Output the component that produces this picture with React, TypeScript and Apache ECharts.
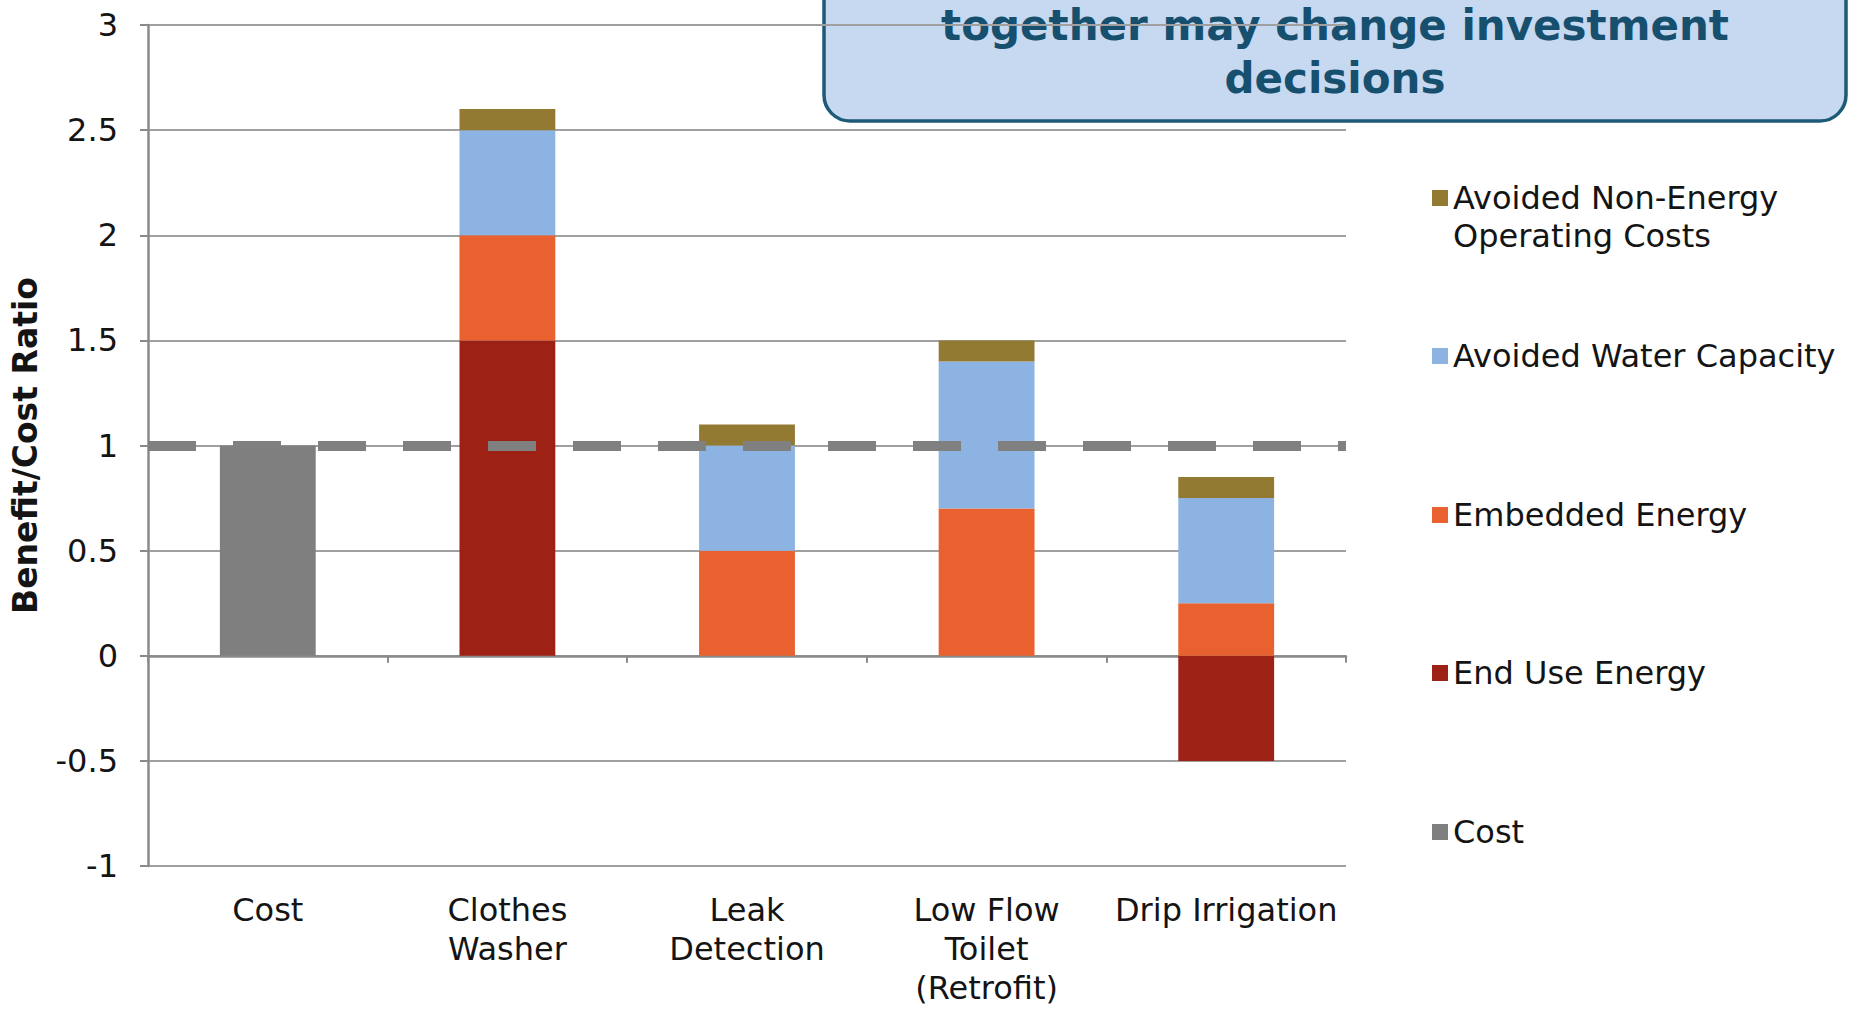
import React, { useEffect, useRef } from 'react';
import * as echarts from 'echarts';

// ---- data ----
const categories = ['Cost', 'Clothes\nWasher', 'Leak\nDetection', 'Low Flow\nToilet\n(Retrofit)', 'Drip Irrigation'];
const costValues = [1, '-', '-', '-', '-'];
const endUseEnergy = ['-', 1.5, '-', '-', -0.5];
const embeddedEnergy = ['-', 0.5, 0.5, 0.7, 0.25];
const avoidedWaterCapacity = ['-', 0.5, 0.5, 0.7, 0.5];
const avoidedNonEnergy = ['-', 0.1, 0.1, 0.1, 0.1];
const breakEvenRatio = 1;
const yMin = -1;
const yMax = 3;
const yInterval = 0.5;
const yAxisTitle = 'Benefit/Cost Ratio';
const titleLines = ['together may change investment', 'decisions'];

const seriesNames = {
  cost: 'Cost',
  endUse: 'End Use Energy',
  embedded: 'Embedded Energy',
  water: 'Avoided Water Capacity',
  nonEnergy: 'Avoided Non-Energy\nOperating Costs',
};
const legendOrder = [seriesNames.nonEnergy, seriesNames.water, seriesNames.embedded, seriesNames.endUse, seriesNames.cost];

const colors = {
  cost: '#7f7f7f',
  endUse: '#9d2115',
  embedded: '#e8612f',
  water: '#8db3e2',
  nonEnergy: '#927a32',
};

const FONT = '"DejaVu Sans", Verdana, sans-serif';

export default function App() {
  const ref = useRef<HTMLDivElement>(null);

  useEffect(() => {
    if (!ref.current) return;
    const chart = echarts.init(ref.current, null, { renderer: 'svg' });

    const legendCenters = [198, 356, 515, 673, 832];
    const legendLine = 38;
    const legends = legendOrder.map((name, i) => {
      const multi = name.includes('\n');
      const half = multi ? legendLine * 1.5 : legendLine / 2;
      return {
        data: [name],
        orient: 'vertical',
        left: 1432,
        top: legendCenters[i] - half,
        padding: 0,
        itemWidth: 16,
        itemHeight: 16,
        icon: 'rect',
        selectedMode: false,
        formatter: (n: string) => (n.includes('\n') ? '\n' + n : n),
        textStyle: {
          fontFamily: FONT,
          fontSize: 32,
          lineHeight: legendLine,
          color: '#141414',
        },
      };
    });

    const barBase = {
      type: 'bar',
      stack: 'total',
      barWidth: '40%',
      xAxisIndex: 0,
      yAxisIndex: 0,
    };

    chart.setOption({
      animation: false,
      backgroundColor: '#ffffff',
      grid: { left: 148, right: 510, top: 25, bottom: 143, containLabel: false },
      legend: legends,
      xAxis: [
        {
          type: 'category',
          data: categories,
          position: 'bottom',
          axisLine: { show: false, onZero: false },
          axisTick: { show: false },
          axisLabel: {
            interval: 0,
            margin: 24,
            fontFamily: FONT,
            fontSize: 32,
            lineHeight: 39,
            color: '#141414',
          },
        },
        {
          type: 'category',
          data: categories,
          position: 'bottom',
          axisLine: { show: true, onZero: true, lineStyle: { color: '#8a8a8a', width: 2.5 } },
          axisTick: { show: true, length: 7, lineStyle: { color: '#8a8a8a', width: 2 } },
          axisLabel: { show: false },
          splitLine: { show: false },
        },
      ],
      yAxis: {
        type: 'value',
        min: yMin,
        max: yMax,
        interval: yInterval,
        name: yAxisTitle,
        nameLocation: 'middle',
        nameGap: 106,
        nameTextStyle: {
          fontFamily: FONT,
          fontWeight: 'bold',
          fontSize: 33,
          color: '#141414',
        },
        axisLine: { show: true, onZero: false, lineStyle: { color: '#8a8a8a', width: 2.5 } },
        axisTick: { show: true, length: 8, lineStyle: { color: '#8a8a8a', width: 2 } },
        axisLabel: {
          margin: 30,
          fontFamily: FONT,
          fontSize: 32,
          color: '#141414',
        },
        splitLine: { show: true, lineStyle: { color: '#a0a0a0', width: 2 } },
      },
      series: [
        { ...barBase, name: seriesNames.cost, data: costValues, itemStyle: { color: colors.cost },
          markLine: {
            silent: true,
            symbol: 'none',
            label: { show: false },
            lineStyle: { color: '#808080', width: 10, type: [48, 37] },
            data: [{ yAxis: breakEvenRatio }],
            z: 10,
          },
        },
        { ...barBase, name: seriesNames.endUse, data: endUseEnergy, itemStyle: { color: colors.endUse } },
        { ...barBase, name: seriesNames.embedded, data: embeddedEnergy, itemStyle: { color: colors.embedded } },
        { ...barBase, name: seriesNames.water, data: avoidedWaterCapacity, itemStyle: { color: colors.water } },
        { ...barBase, name: seriesNames.nonEnergy, data: avoidedNonEnergy, itemStyle: { color: colors.nonEnergy } },
      ],
      graphic: [
        {
          type: 'group',
          z: 100,
          children: [
            {
              type: 'rect',
              shape: { x: 824, y: -40, width: 1022, height: 161, r: 26 },
              style: { fill: '#c6d9f0', stroke: '#1e5a78', lineWidth: 3.5 },
            },
            {
              type: 'text',
              style: {
                text: titleLines.join('\n'),
                x: 1335,
                y: 52,
                align: 'center',
                verticalAlign: 'middle',
                font: `bold 42px ${FONT}`,
                lineHeight: 53,
                fill: '#17506f',
              },
            },
          ],
        },
      ],
    });

    return () => chart.dispose();
  }, []);

  return (
    <div
      ref={ref}
      style={{ position: 'absolute', left: 0, top: 0, width: 1856, height: 1009, background: '#fff' }}
    />
  );
}
